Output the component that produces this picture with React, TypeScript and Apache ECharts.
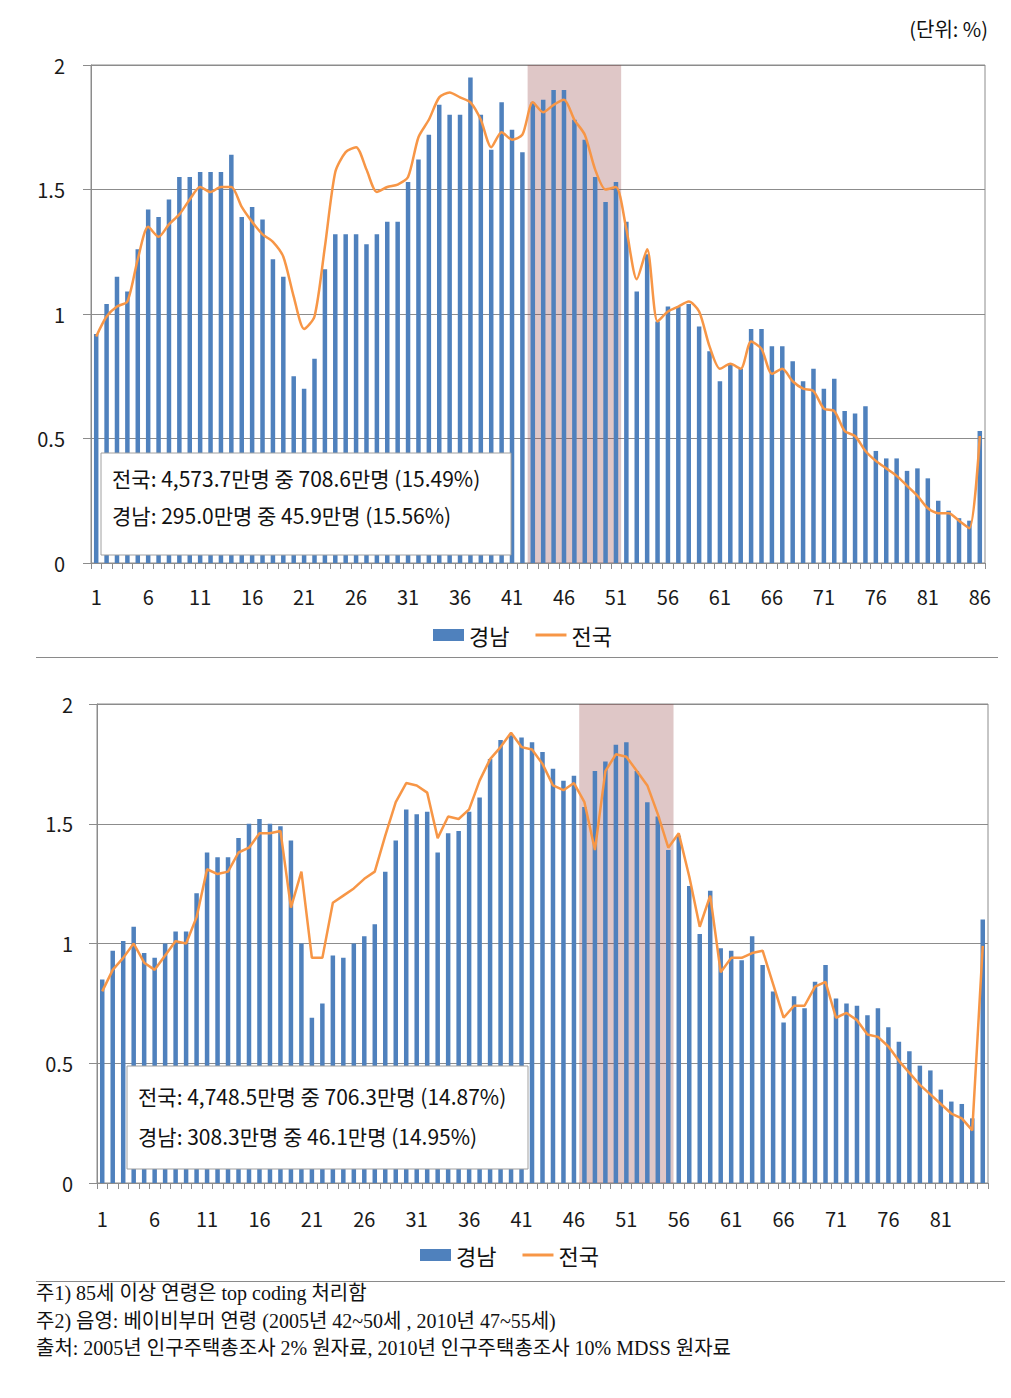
import React, { useEffect, useRef } from "react";
import * as echarts from "echarts";

// ---------- data ----------
const AGES_2005: string[] = Array.from({ length: 86 }, (_, i) => String(i + 1));
const AGES_2010: string[] = Array.from({ length: 85 }, (_, i) => String(i + 1));

const GYEONGNAM_2005 = [
  0.92, 1.04, 1.15, 1.09, 1.26, 1.42, 1.39, 1.46, 1.55, 1.55,
  1.57, 1.57, 1.57, 1.64, 1.39, 1.43, 1.38, 1.22, 1.15, 0.75,
  0.70, 0.82, 1.18, 1.32, 1.32, 1.32, 1.28, 1.32, 1.37, 1.37,
  1.53, 1.62, 1.72, 1.84, 1.80, 1.80, 1.95, 1.80, 1.66, 1.85,
  1.74, 1.65, 1.85, 1.86, 1.90, 1.90, 1.78, 1.70, 1.55, 1.45,
  1.53, 1.37, 1.09, 1.24, 0.97, 1.03, 1.03, 1.04, 0.95, 0.85,
  0.73, 0.80, 0.78, 0.94, 0.94, 0.87, 0.87, 0.81, 0.73, 0.78,
  0.70, 0.74, 0.61, 0.60, 0.63, 0.45, 0.42, 0.42, 0.37, 0.38,
  0.34, 0.25, 0.21, 0.18, 0.17, 0.53,
];
const NATIONAL_2005 = [
  0.91, 0.99, 1.03, 1.05, 1.22, 1.35, 1.31, 1.36, 1.40, 1.46,
  1.51, 1.49, 1.51, 1.51, 1.43, 1.37, 1.32, 1.29, 1.23, 1.07,
  0.94, 0.99, 1.27, 1.57, 1.65, 1.67, 1.58, 1.49, 1.51, 1.52,
  1.55, 1.71, 1.78, 1.87, 1.89, 1.87, 1.85, 1.78, 1.67, 1.73,
  1.70, 1.72, 1.85, 1.81, 1.84, 1.86, 1.78, 1.72, 1.58, 1.50,
  1.51, 1.34, 1.14, 1.26, 0.97, 1.01, 1.03, 1.05, 1.01, 0.87,
  0.78, 0.80, 0.78, 0.89, 0.86, 0.76, 0.78, 0.73, 0.70, 0.69,
  0.62, 0.61, 0.53, 0.51, 0.45, 0.41, 0.38, 0.35, 0.31, 0.27,
  0.22, 0.20, 0.20, 0.17, 0.14, 0.51,
];
const GYEONGNAM_2010 = [
  0.85, 0.97, 1.01, 1.07, 0.96, 0.94, 1.00, 1.05, 1.05, 1.21,
  1.38, 1.36, 1.36, 1.44, 1.50, 1.52, 1.50, 1.49, 1.43, 1.00,
  0.69, 0.75, 0.95, 0.94, 1.00, 1.03, 1.08, 1.30, 1.43, 1.56,
  1.54, 1.55, 1.38, 1.46, 1.47, 1.55, 1.61, 1.77, 1.85, 1.87,
  1.86, 1.84, 1.80, 1.73, 1.68, 1.70, 1.57, 1.72, 1.76, 1.83,
  1.84, 1.72, 1.59, 1.53, 1.39, 1.45, 1.24, 1.04, 1.22, 0.98,
  0.97, 0.93, 1.03, 0.91, 0.80, 0.67, 0.78, 0.73, 0.84, 0.91,
  0.77, 0.75, 0.74, 0.70, 0.73, 0.65, 0.59, 0.55, 0.49, 0.47,
  0.39, 0.34, 0.33, 0.27, 1.10,
];
const NATIONAL_2010 = [
  0.80, 0.89, 0.94, 1.00, 0.92, 0.89, 0.95, 1.01, 1.00, 1.11,
  1.31, 1.29, 1.30, 1.38, 1.40, 1.46, 1.46, 1.47, 1.15, 1.30,
  0.94, 0.94, 1.17, 1.20, 1.23, 1.27, 1.30, 1.45, 1.59, 1.67,
  1.66, 1.63, 1.44, 1.53, 1.52, 1.56, 1.68, 1.77, 1.82, 1.88,
  1.82, 1.81, 1.75, 1.66, 1.64, 1.67, 1.59, 1.39, 1.72, 1.79,
  1.78, 1.72, 1.66, 1.54, 1.40, 1.46, 1.28, 1.07, 1.20, 0.88,
  0.94, 0.94, 0.96, 0.97, 0.83, 0.69, 0.74, 0.74, 0.82, 0.84,
  0.69, 0.71, 0.68, 0.62, 0.61, 0.57, 0.51, 0.46, 0.41, 0.37,
  0.33, 0.29, 0.27, 0.22, 0.99,
];

// baby-boomer shaded ranges (first and last category shaded)
const BOOMER_2005 = [43, 51];
const BOOMER_2010 = [47, 55];

const SERIES_NAMES = ["경남", "전국"];
const UNIT_TEXT = "(단위: %)";
const BOX_2005 = [
  "전국: 4,573.7만명 중 708.6만명 (15.49%)",
  "경남: 295.0만명 중 45.9만명 (15.56%)",
];
const BOX_2010 = [
  "전국: 4,748.5만명 중 706.3만명 (14.87%)",
  "경남: 308.3만명 중 46.1만명 (14.95%)",
];
const NOTES = [
  "주1) 85세 이상 연령은 top coding 처리함",
  "주2) 음영: 베이비부머 연령 (2005년 42~50세 , 2010년 47~55세)",
  "출처: 2005년 인구주택총조사 2% 원자료, 2010년 인구주택총조사 10% MDSS 원자료",
];

const FONT = '"Noto Sans CJK KR", "Noto Sans", sans-serif';
const SERIF = '"Liberation Serif", "Noto Sans CJK KR", serif';
const BLUE = "#4F81BD";
const ORANGE = "#F79646";
const GRID_GREY = "#8c8c8c";
const LINE_ICON = "path://M0,0H31V3H0Z";

function catAxis(gridIndex: number, data: string[], margin: number) {
  return {
    type: "category",
    gridIndex,
    data,
    boundaryGap: true,
    axisLine: { show: true, lineStyle: { color: GRID_GREY, width: 1 } },
    axisTick: {
      show: true,
      interval: 0,
      length: 6,
      inside: false,
      lineStyle: { color: GRID_GREY },
    },
    axisLabel: {
      interval: 4,
      fontSize: 20,
      margin,
      color: "#1a1a1a",
      fontFamily: FONT,
    },
    splitLine: { show: false },
  };
}

function valAxis(gridIndex: number, margin: number) {
  return {
    type: "value",
    gridIndex,
    min: 0,
    max: 2,
    interval: 0.5,
    axisLine: { show: true, lineStyle: { color: GRID_GREY, width: 1 } },
    axisTick: { show: true, length: 8, lineStyle: { color: GRID_GREY } },
    axisLabel: {
      fontSize: 20,
      margin,
      color: "#1a1a1a",
      fontFamily: FONT,
    },
    splitLine: { show: true, lineStyle: { color: GRID_GREY, width: 1 } },
  };
}

function boxGraphic(x: number, y: number, w: number, h: number, lines: string[], tx: number, ty: number[]) {
  return [
    {
      type: "rect",
      z: 100,
      shape: { x, y, width: w, height: h },
      style: { fill: "#ffffff", stroke: "#a0a0a0", lineWidth: 1 },
    },
    ...lines.map((t, i) => ({
      type: "text",
      z: 101,
      x: tx,
      y: ty[i],
      style: {
        text: t,
        font: `21px ${FONT}`,
        fill: "#111111",
        textAlign: "left",
        verticalAlign: "middle",
      },
    })),
  ];
}

function legendAt(left: number, top: number) {
  return {
    data: [
      { name: SERIES_NAMES[0], icon: "rect" },
      { name: SERIES_NAMES[1], icon: LINE_ICON },
    ],
    left,
    top,
    itemWidth: 31,
    itemHeight: 12,
    itemGap: 26,
    selectedMode: false,
    textStyle: { fontSize: 22, fontFamily: FONT, color: "#111" },
  };
}

export default function App() {
  const ref = useRef<HTMLDivElement>(null);

  useEffect(() => {
    if (!ref.current) return;
    const chart = echarts.init(ref.current, undefined, { renderer: "svg" });

    const option: any = {
      animation: false,
      backgroundColor: "#ffffff",
      grid: [
        {
          left: 91, top: 65, width: 894, height: 498,
          show: true, borderColor: GRID_GREY, borderWidth: 1, backgroundColor: "transparent",
        },
        {
          left: 97, top: 704, width: 891, height: 479,
          show: true, borderColor: GRID_GREY, borderWidth: 1, backgroundColor: "transparent",
        },
      ],
      xAxis: [
        catAxis(0, AGES_2005, 23),
        catAxis(1, AGES_2010, 25),
        { type: "value", gridIndex: 0, min: 0.5, max: AGES_2005.length + 0.5, show: false },
        { type: "value", gridIndex: 1, min: 0.5, max: AGES_2010.length + 0.5, show: false },
      ],
      yAxis: [valAxis(0, 26), valAxis(1, 24)],
      legend: [legendAt(428, 619), legendAt(415, 1239)],
      series: [
        {
          name: SERIES_NAMES[0], type: "bar", xAxisIndex: 0, yAxisIndex: 0,
          data: GYEONGNAM_2005, barWidth: 4.5, itemStyle: { color: BLUE }, z: 2,
        },
        {
          name: "shade2005", type: "line", xAxisIndex: 2, yAxisIndex: 0, data: [], z: 3,
          markArea: {
            silent: true,
            itemStyle: { color: "rgba(150,70,70,0.3)" },
            data: [[{ xAxis: BOOMER_2005[0] - 0.5 }, { xAxis: BOOMER_2005[1] + 0.5 }]],
          },
        },
        {
          name: SERIES_NAMES[1], type: "line", xAxisIndex: 0, yAxisIndex: 0,
          data: NATIONAL_2005, symbol: "none", smooth: 0.25,
          lineStyle: { color: ORANGE, width: 2.5 }, itemStyle: { color: ORANGE }, z: 5,
        },
        {
          name: SERIES_NAMES[0], type: "bar", xAxisIndex: 1, yAxisIndex: 1,
          data: GYEONGNAM_2010, barWidth: 4.5, itemStyle: { color: BLUE }, z: 2,
        },
        {
          name: "shade2010", type: "line", xAxisIndex: 3, yAxisIndex: 1, data: [], z: 3,
          markArea: {
            silent: true,
            itemStyle: { color: "rgba(150,70,70,0.3)" },
            data: [[{ xAxis: BOOMER_2010[0] - 0.5 }, { xAxis: BOOMER_2010[1] + 0.5 }]],
          },
        },
        {
          name: SERIES_NAMES[1], type: "line", xAxisIndex: 1, yAxisIndex: 1,
          data: NATIONAL_2010, symbol: "none", smooth: false,
          lineStyle: { color: ORANGE, width: 2.5 }, itemStyle: { color: ORANGE }, z: 5,
        },
      ],
      graphic: [
        {
          type: "text", z: 100, x: 988, y: 28,
          style: {
            text: UNIT_TEXT, font: `20px ${FONT}`, fill: "#111",
            textAlign: "right", verticalAlign: "middle",
          },
        },
        {
          type: "line", z: 100,
          shape: { x1: 36, y1: 657.5, x2: 998, y2: 657.5 },
          style: { stroke: "#8a8a8a", lineWidth: 1 },
        },
        {
          type: "line", z: 100,
          shape: { x1: 36, y1: 1281.5, x2: 1005, y2: 1281.5 },
          style: { stroke: "#8a8a8a", lineWidth: 1 },
        },
        ...boxGraphic(101, 453, 410, 102, BOX_2005, 112, [478, 515]),
        ...boxGraphic(127, 1066, 401, 103, BOX_2010, 138, [1096, 1136]),
        ...NOTES.map((t, i) => ({
          type: "text", z: 100, x: 36, y: 1293 + i * 27.5,
          style: {
            text: t, font: `20px ${SERIF}`, fill: "#111",
            textAlign: "left", verticalAlign: "middle",
          },
        })),
      ],
    };

    chart.setOption(option);
    return () => chart.dispose();
  }, []);

  return (
    <div
      ref={ref}
      style={{ position: "absolute", left: 0, top: 0, width: 1011, height: 1398 }}
    />
  );
}
